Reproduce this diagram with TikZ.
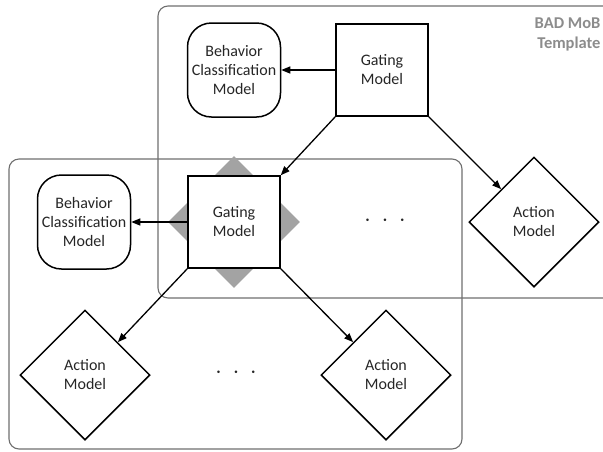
\documentclass[tikz,border=0pt]{standalone}
\usepackage{fontspec}
\setmainfont{Carlito}
\usetikzlibrary{shapes.geometric,arrows.meta}
\definecolor{framegray}{HTML}{6E6E6E}
\definecolor{shadegray}{HTML}{A3A3A3}
\definecolor{labelgray}{HTML}{8C8C8C}
\tikzset{
  every node/.style={font=\fontsize{16}{19}\selectfont, text=black!85, align=center},
  frame/.style={draw=framegray, line width=1.1pt, rounded corners=10pt},
  classbox/.style={draw, line width=1.5pt, rounded corners=24pt, minimum width=93pt, minimum height=94pt, inner sep=0pt},
  gatebox/.style={draw, line width=1.5pt, minimum width=92pt, minimum height=92pt, inner sep=0pt},
  actionbox/.style={draw, line width=1.5pt, diamond, aspect=1, minimum width=130pt, minimum height=130pt, inner sep=0pt},
  shadow diamond/.style={diamond, aspect=1, fill=shadegray, minimum width=132pt, minimum height=132pt, inner sep=0pt},
  ellipsis/.style={font=\fontsize{26}{26}\selectfont, inner sep=0pt},
  link/.style={line width=1.3pt, -{Triangle[length=9pt,width=7pt]}},
}
\newcommand{\spacedots}{$\cdot\hspace{5pt}\cdot\hspace{5pt}\cdot$}
\begin{document}
\begin{tikzpicture}[x=1pt,y=-1pt]
  \useasboundingbox (0,0) rectangle (603,451);
  \clip (0,0) rectangle (603,451);

  % template frame and its instance frame
  \draw[frame] (158,6) rectangle (660,298);
  \draw[frame] (9,159) rectangle (462,449);

  \node[anchor=north east, font=\bfseries\fontsize{16.5}{20}\selectfont, text=labelgray, align=right] (title) at (604,14) {BAD MoB\\Template};

  % upper level
  \node[classbox] (bc1) at (234,70) {Behavior\\Classification\\Model};
  \node[gatebox] (g1) at (382,70) {Gating\\Model};
  \node[actionbox] (a1) at (534,222) {Action\\Model};

  % lower level: gating model drawn over a shaded diamond
  \node[shadow diamond] (sh) at (234,222) {};
  \node[gatebox, fill=white] (g2) at (234,222) {Gating\\Model};
  \node[classbox] (bc2) at (84,222) {Behavior\\Classification\\Model};
  \node[ellipsis] (dots1) at (385,221) {\spacedots};

  \node[actionbox] (a2) at (85,375) {Action\\Model};
  \node[actionbox] (a3) at (386,375) {Action\\Model};
  \node[ellipsis] (dots2) at (236,373) {\spacedots};

  % connectors
  \draw[link] (g1.west) -- (bc1.east);
  \draw[link] (g1.south west) -- (g2.north east);
  \draw[link] (g1.south east) -- (a1.north west);
  \draw[link] (g2.west) -- (bc2.east);
  \draw[link] (g2.south west) -- (a2.north east);
  \draw[link] (g2.south east) -- (a3.north west);
\end{tikzpicture}
\end{document}
